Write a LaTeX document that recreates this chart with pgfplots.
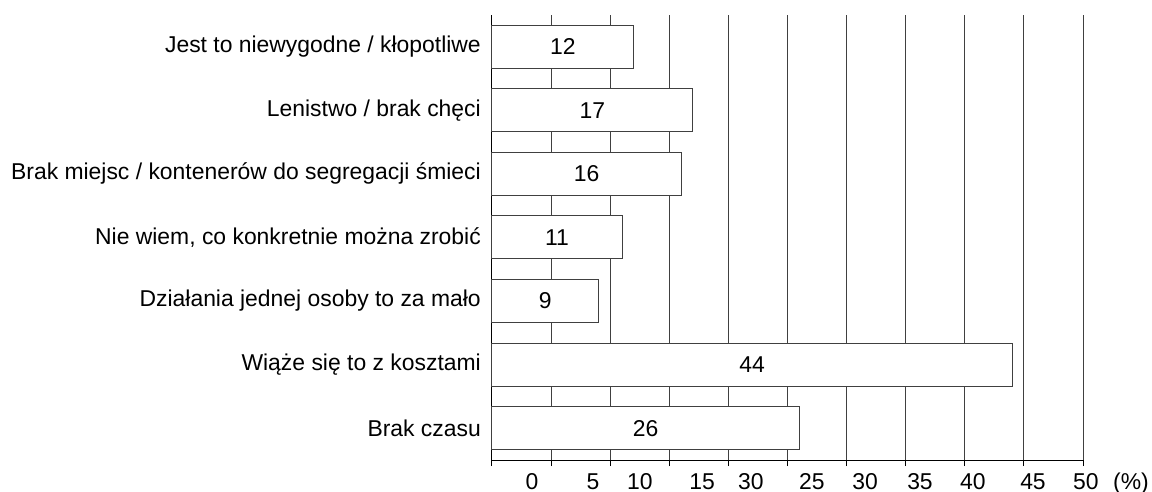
\documentclass[border=0pt]{standalone}
\usepackage{pgfplots}
\pgfplotsset{compat=1.18}
\usepackage{fontspec}
\setmainfont{Liberation Sans}
\newcommand\bigf{\fontsize{22.9bp}{27bp}\selectfont}
\begin{document}
\bigf
\begin{tikzpicture}[every node/.append style={font=\bigf}]
\begin{axis}[
  scale only axis,
  width=591bp, height=445bp,
  xmin=0, xmax=50,
  ymin=0.5, ymax=7.5,
  axis x line*=bottom, axis y line*=left,
  axis line style={black, line width=1bp},
  tick align=outside,
  xtick={0,5,...,50}, xticklabels={},
  major tick length=6bp,
  tick style={black, line width=1bp},
  xmajorgrids,
  major x grid style={black!75, line width=1bp},
  ytick={1,...,7},
  ytick style={draw=none},
  minor ytick={0.5,1.5,...,7.5},
  minor tick length=8bp,
  yticklabels={Brak czasu, Wiąże się to z kosztami, Działania jednej osoby to za mało, {Nie wiem, co konkretnie można zrobić}, Brak miejsc / kontenerów do segregacji śmieci, Lenistwo / brak chęci, Jest to niewygodne / kłopotliwe},
  yticklabel style={inner sep=0pt, xshift=-5bp, font=\bigf},
  clip=false,
]
\addplot[xbar, bar shift=0pt, bar width=43bp, fill=white, draw=black!75, line width=1bp]
  coordinates {(26,1) (44,2) (9,3) (11,4) (16,5) (17,6) (12,7)};
\addplot[draw=none, mark=none, nodes near coords, point meta=explicit symbolic,
  every node near coord/.style={anchor=center, inner sep=0pt, font=\bigf}]
  table[meta=lab] {
x y lab
13 1 26
22 2 44
4.5 3 9
5.5 4 11
8 5 16
8.5 6 17
6 7 12
};
\coordinate (sw) at (rel axis cs:0,0);
\coordinate (ne) at (rel axis cs:1,1);
\node[anchor=base] at ([yshift=-29bp]axis cs:3.38,0.5) {0};
\node[anchor=base] at ([yshift=-29bp]axis cs:8.54,0.5) {5};
\node[anchor=base] at ([yshift=-29bp]axis cs:12.52,0.5) {10};
\node[anchor=base] at ([yshift=-29bp]axis cs:17.77,0.5) {15};
\node[anchor=base] at ([yshift=-29bp]axis cs:21.91,0.5) {30};
\node[anchor=base] at ([yshift=-29bp]axis cs:27.07,0.5) {25};
\node[anchor=base] at ([yshift=-29bp]axis cs:31.56,0.5) {30};
\node[anchor=base] at ([yshift=-29bp]axis cs:36.21,0.5) {35};
\node[anchor=base] at ([yshift=-29bp]axis cs:40.69,0.5) {40};
\node[anchor=base] at ([yshift=-29bp]axis cs:45.77,0.5) {45};
\node[anchor=base] at ([yshift=-29bp]axis cs:50.25,0.5) {50};
\node[anchor=base] at ([yshift=-29bp]axis cs:54.06,0.5) {(\%)};
\end{axis}
\pgfresetboundingbox
\path ([shift={(-492bp,-32bp)}]sw) rectangle ([shift={(69bp,15bp)}]ne);
\end{tikzpicture}
\end{document}
